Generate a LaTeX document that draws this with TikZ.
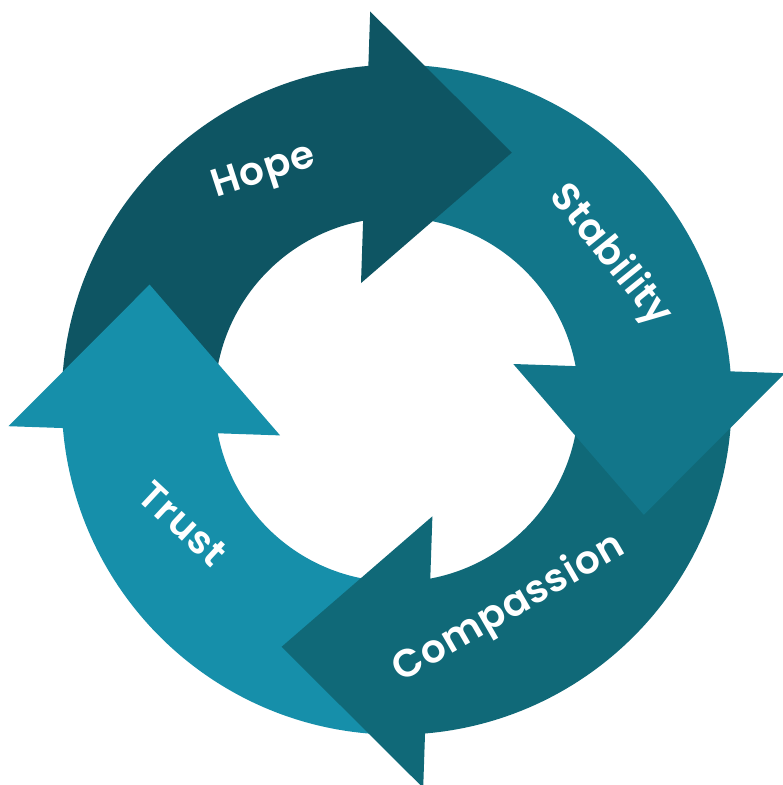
\documentclass[tikz,border=0pt]{standalone}
\usepackage{fontspec}
\setmainfont{Poppins}[BoldFont={Poppins SemiBold},LetterSpace=2]
\definecolor{hopec}{HTML}{0E5563}
\definecolor{stabc}{HTML}{12768A}
\definecolor{compc}{HTML}{106978}
\definecolor{trustc}{HTML}{168FAA}
\begin{document}
\begin{tikzpicture}[x=1pt,y=1pt,
  lbl/.style={text=white,font=\bfseries\fontsize{39}{39}\selectfont,inner sep=0pt}]
\useasboundingbox (-396.7,-385.3) rectangle (386.3,399.7);
\clip (-396.7,-385.3) rectangle (386.3,399.7);
% ring segments (shafts)
\foreach \ang/\col in {0/hopec,-90/stabc,-180/compc,-270/trustc}{
  \fill[\col,rotate=\ang] (180:335) arc[start angle=180,end angle=93,radius=335]
    -- (93:182) arc[start angle=93,end angle=180,radius=182] -- cycle;
}
% arrowheads
\foreach \ang/\col in {0/hopec,-90/stabc,-180/compc,-270/trustc}{
  \fill[\col,rotate=\ang] (-26.5,388.2) -- (115.1,247.1) -- (-35.7,116.6) -- cycle;
}
\node[lbl,rotate=18] (hope) at (-132.5,226.5) {Hope};
\node[lbl,rotate=-51] (stability) at (213.3,143.7) {Stability};
\node[lbl,rotate=30] (compassion) at (112.5,-209.3) {Compassion};
\node[lbl,rotate=-43] (trust) at (-213.7,-124.3) {Trust};
\end{tikzpicture}
\end{document}
